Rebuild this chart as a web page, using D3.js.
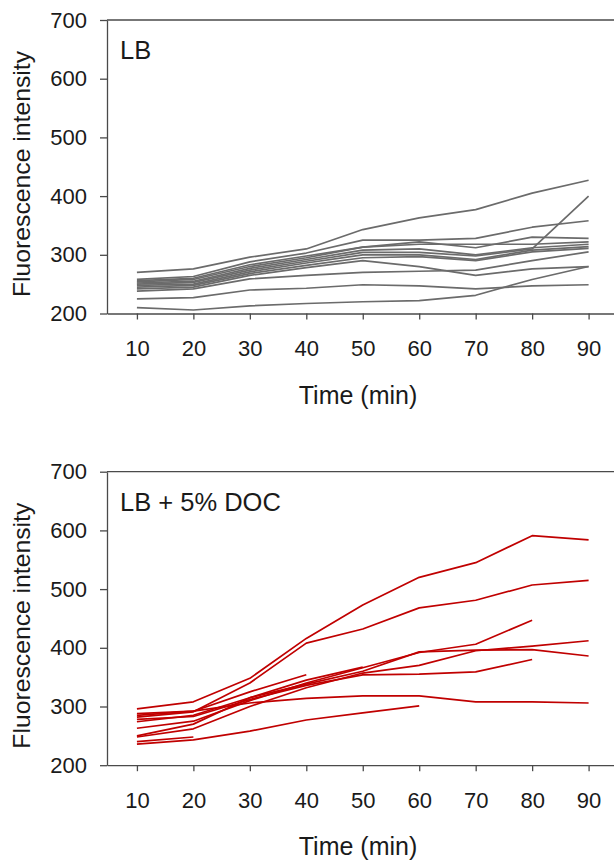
<!DOCTYPE html>
<html>
<head>
<meta charset="utf-8">
<script src="https://cdn.jsdelivr.net/npm/d3@7"></script>
<style>
  html, body { margin: 0; padding: 0; background: #fff; }
  svg text { font-family: Arial, "Liberation Sans", sans-serif; fill: #1a1a1a; }
</style>
</head>
<body>
<div id="chart"></div>
<script>
// time points (min)
const times = [10, 20, 30, 40, 50, 60, 70, 80, 90];
const yTicks = [200, 300, 400, 500, 600, 700];

// LB: one array per well
const lbCurves = [
  [270, 276, 296, 310, 343, 363, 377, 405, 427],
  [258, 263, 288, 303, 325, 325, 328, 347, 358],
  [256, 260, 283, 298, 313, 322, 312, 330, 328],
  [254, 258, 280, 295, 313, 318, 318, 318, 322],
  [252, 255, 277, 292, 308, 310, 300, 312, 318],
  [250, 253, 274, 289, 304, 304, 298, 310, 400],
  [248, 250, 271, 286, 300, 300, 292, 308, 314],
  [245, 248, 268, 282, 295, 297, 290, 305, 311],
  [242, 245, 265, 278, 290, 280, 265, 276, 280],
  [238, 242, 259, 265, 270, 272, 274, 290, 305],
  [225, 227, 240, 243, 249, 247, 242, 247, 249],
  [210, 206, 213, 217, 220, 222, 231, 258, 280]
];

// LB + 5% DOC: some wells stop early
const docCurves = [
  [296, 308, 348, 416, 473, 520, 545, 591, 584],
  [282, 291, 340, 408, 432, 468, 481, 507, 515],
  [263, 275, 310, 340, 366, 392, 406, 447],
  [248, 262, 300, 332, 357, 370, 395, 403, 412],
  [274, 285, 315, 338, 360, 393, 396, 397, 386],
  [278, 283, 312, 336, 354, 355, 359, 380],
  [288, 292, 306, 314, 318, 318, 308, 308, 306],
  [236, 243, 258, 277, 289, 301],
  [250, 270, 315, 345, 367],
  [285, 292, 325, 354],
  [240, 248]
];

const width = 614, height = 860;
const axisColor = '#4a4a4a';

const svg = d3.select('#chart')
  .append('svg')
  .attr('width', width)
  .attr('height', height);

// x scale shared by both panels (axis runs to the right edge)
const x = d3.scaleLinear()
  .domain([4.7, 94.5])
  .range([107, 614]);

const drawPanel = (top, label, curves, color) => {
  const y = d3.scaleLinear()
    .domain([200, 700])
    .range([top + 293.5, top]);

  const g = svg.append('g');

  // top frame line
  g.append('line')
    .attr('x1', x.range()[0]).attr('x2', x.range()[1])
    .attr('y1', y(700)).attr('y2', y(700))
    .attr('stroke', axisColor).attr('stroke-width', 1.3);

  const xAxis = d3.axisBottom(x)
    .tickValues(times)
    .tickSize(6)
    .tickSizeOuter(0)
    .tickPadding(21);

  const yAxis = d3.axisLeft(y)
    .tickValues(yTicks)
    .tickSize(7)
    .tickSizeOuter(0)
    .tickPadding(13);

  const xg = g.append('g')
    .attr('transform', `translate(0, ${y(200)})`)
    .call(xAxis);
  const yg = g.append('g')
    .attr('transform', `translate(${x.range()[0]}, 0)`)
    .call(yAxis);

  [xg, yg].forEach(a => {
    a.select('.domain').attr('stroke', axisColor).attr('stroke-width', 1.3);
    a.selectAll('.tick line').attr('stroke', axisColor).attr('stroke-width', 1.3);
    a.selectAll('text')
      .attr('fill', '#1a1a1a')
      .style('font-size', '22px')
      .style('font-family', 'Arial, "Liberation Sans", sans-serif');
  });

  const line = d3.line()
    .x((d, i) => x(times[i]))
    .y(d => y(d));

  g.append('g')
    .selectAll('path')
    .data(curves)
    .join('path')
    .attr('d', line)
    .attr('fill', 'none')
    .attr('stroke', color)
    .attr('stroke-width', 1.7)
    .attr('stroke-linejoin', 'round');

  g.append('text')
    .attr('x', 120)
    .attr('y', top + 39)
    .style('font-size', '25.5px')
    .text(label);

  g.append('text')
    .attr('transform', `translate(30, ${top + 154}) rotate(-90)`)
    .attr('text-anchor', 'middle')
    .attr('textLength', 246)
    .attr('lengthAdjust', 'spacingAndGlyphs')
    .style('font-size', '24px')
    .text('Fluorescence intensity');

  g.append('text')
    .attr('x', 358)
    .attr('y', y(200) + 90)
    .attr('text-anchor', 'middle')
    .style('font-size', '25px')
    .text('Time (min)');
};

drawPanel(20, 'LB', lbCurves, '#6b6b6b');
drawPanel(471.7, 'LB + 5% DOC', docCurves, '#c00000');
</script>
</body>
</html>
